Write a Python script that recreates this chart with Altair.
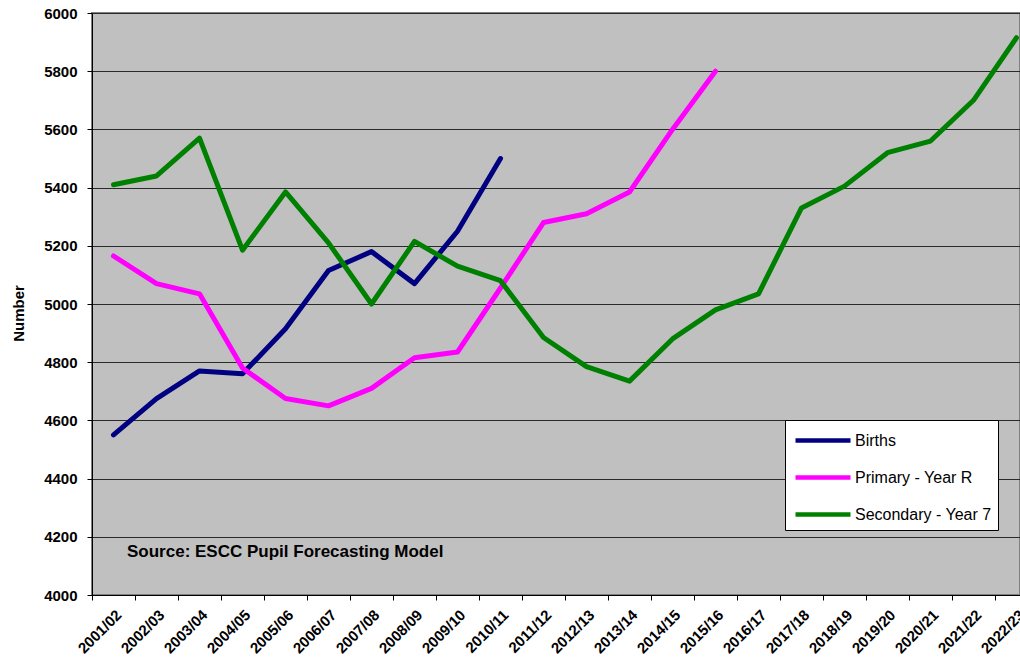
import altair as alt
import pandas as pd

years = ["2001/02", "2002/03", "2003/04", "2004/05", "2005/06", "2006/07", "2007/08",
         "2008/09", "2009/10", "2010/11", "2011/12", "2012/13", "2013/14", "2014/15",
         "2015/16", "2016/17", "2017/18", "2018/19", "2019/20", "2020/21", "2021/22",
         "2022/23"]

births = [4550, 4675, 4770, 4760, 4915, 5115, 5180, 5070, 5250, 5500]
primary = [5165, 5070, 5035, 4780, 4675, 4650, 4710, 4815, 4835, 5055, 5280, 5310,
           5385, 5600, 5800]
secondary = [5410, 5440, 5570, 5185, 5385, 5210, 5000, 5215, 5130, 5080, 4885, 4785,
             4735, 4880, 4980, 5035, 5330, 5405, 5520, 5560, 5700, 5915]

series_names = ["Births", "Primary - Year R", "Secondary - Year 7"]
series_colors = ["#000080", "#FF00FF", "#008000"]
y_ticks = [4000, 4200, 4400, 4600, 4800, 5000, 5200, 5400, 5600, 5800, 6000]
source_text = "Source: ESCC Pupil Forecasting Model"

rows = []
for name, vals in zip(series_names, [births, primary, secondary]):
    for i, v in enumerate(vals):
        rows.append({"year": years[i], "series": name, "value": v, "order": i})
df = pd.DataFrame(rows)

FONT = "Liberation Sans"

lines = alt.Chart(df).mark_line(strokeWidth=5, strokeJoin="round", strokeCap="round").encode(
    x=alt.X("year:O", sort=years,
            scale=alt.Scale(type="band", domain=years, range=[0, 946],
                            paddingInner=0, paddingOuter=0),
            axis=alt.Axis(title=None, labelAngle=-45, labelFont=FONT, labelFontSize=15,
                          labelFontWeight="bold", labelColor="black", tickBand="extent",
                          tickSize=5, tickColor="black", domainColor="black",
                          labelPadding=7, grid=False, labelOverlap=False)),
    y=alt.Y("value:Q", scale=alt.Scale(domain=[4000, 6000], nice=False, zero=False),
            axis=alt.Axis(title="Number", values=y_ticks, format="d", labelFont=FONT,
                          labelFontSize=15, labelFontWeight="bold", labelColor="black",
                          tickSize=5, tickColor="black", domainColor="black",
                          labelPadding=10, grid=True, gridColor="#2a2a2a",
                          gridWidth=1, titleFont=FONT, titleFontSize=15,
                          titleFontWeight="bold", titleColor="black",
                          titleX=-74, titleY=300, titleAngle=-90, titleAlign="center",
                          titleBaseline="middle")),
    color=alt.Color("series:N",
                    scale=alt.Scale(domain=series_names, range=series_colors),
                    legend=alt.Legend(title=None, orient="none", legendX=693, legendY=407,
                                      fillColor="white", strokeColor="black", padding=6,
                                      symbolType="M-0.833,0H3.75", symbolStrokeWidth=4.5,
                                      symbolSize=576, symbolFillColor="transparent",
                                      labelFont=FONT, labelFontSize=16,
                                      labelColor="black", rowPadding=13, labelOffset=35)),
    order="order:Q",
)

source = alt.Chart(pd.DataFrame({"t": [source_text]})).mark_text(
    align="left", baseline="middle", font=FONT, fontSize=17, fontWeight="bold", color="black"
).encode(x=alt.value(35), y=alt.value(539), text="t:N")

chart = alt.layer(lines, source).properties(
    width=928, height=582,
    autosize=alt.AutoSizeParams(type="none"),
    padding={"left": 92, "top": 13, "right": 0, "bottom": 73},
).configure(background="white").configure_view(fill="#C0C0C0", stroke="#808080", strokeWidth=2)

chart.save("out.html", embed_options={"renderer": "svg", "actions": False})
